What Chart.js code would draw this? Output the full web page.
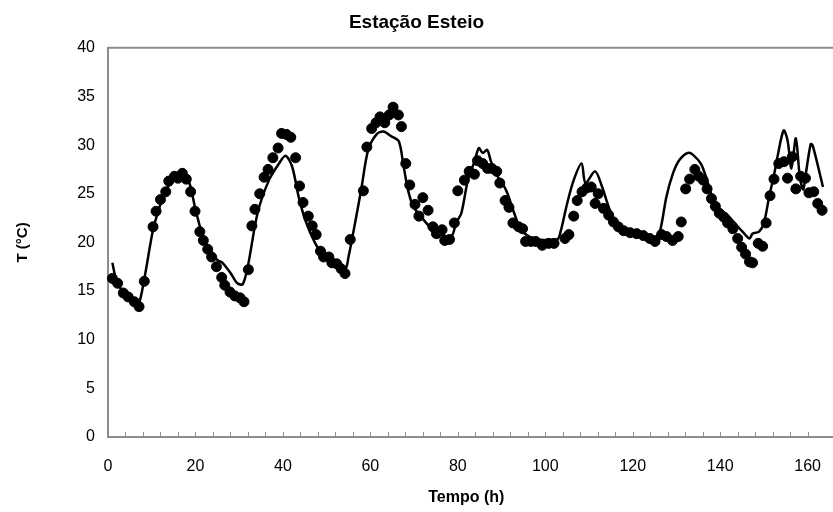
<!DOCTYPE html>
<html>
<head>
<meta charset="utf-8">
<script src="https://cdn.jsdelivr.net/npm/chart.js@4"></script>
<style>
  html, body { margin: 0; padding: 0; background: #fff; }
  #wrap { width: 833px; height: 512px; }
</style>
</head>
<body>
<div id="wrap"><canvas id="tempChart"></canvas></div>
<script>
// observed temperature (dots)
var obsHours = [1, 2.2, 3.5, 4.6, 6, 7.1, 8.3, 10.3, 11, 12, 13.2, 13.9, 15.2, 16, 17, 17.9, 18.9, 19.9, 21, 21.8,
    22.8, 23.7, 24.8, 26, 26.7, 27.9, 29, 30.2, 31.1, 32.1, 32.9, 33.6, 34.7, 35.7, 36.6, 37.7, 38.9, 39.7, 40.8, 41.8,
    42.9, 43.8, 44.6, 45.8, 46.7, 47.6, 48.6, 49.3, 50.5, 51.2, 52.3, 53.3, 54.2, 55.4, 58.4, 59.2, 60.3, 61.3, 62.2, 63.3,
    64.3, 65.2, 66.4, 67.1, 68.1, 69, 70.2, 71.1, 72, 73.2, 74.3, 75.1, 76.4, 77, 78.1, 79.2, 80, 81.5, 82.6, 83.8,
    84.5, 85.7, 86.8, 87.8, 88.9, 89.6, 90.8, 91.7, 92.6, 93.9, 94.8, 95.5, 96.7, 97.8, 99.3, 100.8, 102, 104.5, 105.4, 106.5,
    107.3, 108.4, 109.5, 110.5, 111.4, 112.1, 113.3, 114.5, 115.6, 116.7, 117.9, 119.4, 120.9, 122.4, 123.9, 125.1, 126.6, 127.7, 129.1, 130.4,
    131.1, 132.1, 133, 134.2, 135.1, 136.1, 137, 138, 138.9, 139.8, 140.8, 141.7, 142.9, 144, 144.9, 145.8, 146.7, 147.4, 148.7, 149.7,
    150.5, 151.4, 152.3, 153.4, 154.6, 155.4, 156.5, 157.3, 158.4, 159.5, 160.3, 161.4, 162.3, 163.3];
var obsTemps = [16.3, 15.8, 14.8, 14.4, 13.9, 13.4, 16.0, 21.6, 23.2, 24.4, 25.2, 26.3, 26.8, 26.6, 27.1, 26.5, 25.2, 23.2, 21.1, 20.2,
    19.3, 18.5, 17.5, 16.4, 15.6, 14.9, 14.5, 14.3, 13.9, 17.2, 21.7, 23.4, 25.0, 26.7, 27.5, 28.7, 29.7, 31.2, 31.1, 30.8,
    28.7, 25.8, 24.1, 22.7, 21.7, 20.8, 19.1, 18.5, 18.5, 17.9, 17.8, 17.3, 16.8, 20.3, 25.3, 29.8, 31.7, 32.3, 32.9, 32.3,
    33.1, 33.9, 33.1, 31.9, 28.1, 25.9, 23.9, 22.7, 24.6, 23.3, 21.6, 20.9, 21.3, 20.2, 20.3, 22.0, 25.3, 26.4, 27.3, 27.0,
    28.4, 28.1, 27.6, 27.6, 27.3, 26.1, 24.3, 23.6, 22.0, 21.6, 21.4, 20.1, 20.1, 20.1, 19.7, 19.9, 19.9, 20.4, 20.8, 22.7,
    24.3, 25.2, 25.6, 25.7, 24.0, 25.0, 23.5, 22.8, 22.1, 21.6, 21.2, 21.0, 20.9, 20.7, 20.4, 20.1, 20.8, 20.6, 20.2, 20.6,
    22.1, 25.5, 26.5, 27.5, 26.8, 26.4, 25.5, 24.5, 23.7, 23.0, 22.6, 22.0, 21.4, 20.4, 19.5, 18.8, 18.0, 17.9, 19.9, 19.6,
    22.0, 24.8, 26.5, 28.1, 28.3, 26.6, 28.8, 25.5, 26.8, 26.6, 25.1, 25.2, 24.0, 23.3];

// simulated temperature (line)
var modelHours = [1, 2, 4, 6, 7, 8.4, 10.3, 11.7, 13, 15, 16.9, 18.6, 20, 22, 25, 26.2, 28.1, 29.6, 30.8, 32,
    34.2, 36.8, 39.1, 40.6, 42.1, 43.6, 45.1, 47.4, 49.7, 51.9, 54.2, 55, 56.5, 58, 59.5, 61.4, 63, 64.8, 66.5, 67.5,
    68.6, 69.8, 71.3, 73.6, 75.8, 78.5, 79.6, 80.8, 82.3, 83.8, 84.8, 85.7, 86.7, 87.6, 88.7, 91, 92.9, 94.4, 96.3, 98,
    102.7, 103.5, 105, 106.5, 108.3, 109.2, 111.4, 113, 114.8, 116.7, 119.4, 122.4, 125.1, 126.2, 127.7, 129.2, 130.7, 132.6, 133.8, 135.7,
    137.2, 138.7, 140.2, 141.7, 143.3, 145.1, 146.7, 147.4, 148.9, 150, 151.2, 152.3, 153.1, 154.5, 155.4, 156.3, 157.3, 158.2, 159, 159.5,
    160.7, 161.2, 163.5];
var modelTemps = [17.9, 16.0, 14.6, 13.9, 13.6, 16.5, 21.3, 23.5, 25.1, 26.5, 27.0, 26.1, 23.4, 20.3, 18.2, 17.9, 16.8, 15.8, 15.7, 17.6,
    23.0, 26.4, 28.1, 28.9, 27.8, 24.7, 22.3, 19.9, 18.4, 17.9, 17.2, 18.5, 22.0, 25.7, 29.5, 31.1, 31.4, 30.9, 30.4, 28.1,
    25.4, 23.7, 22.8, 21.6, 20.9, 20.6, 22.0, 23.0, 26.4, 28.3, 29.7, 29.2, 29.5, 28.3, 27.1, 25.4, 23.0, 21.3, 20.6, 20.3,
    20.3, 21.1, 24.0, 26.4, 28.1, 26.1, 27.3, 25.7, 23.3, 21.8, 21.3, 20.9, 20.6, 21.1, 24.7, 27.1, 28.5, 29.2, 29.0, 28.0,
    26.1, 24.0, 23.3, 22.8, 22.0, 21.1, 20.4, 20.9, 21.1, 22.0, 24.7, 26.9, 28.8, 31.5, 30.5, 27.6, 30.7, 26.8, 25.4, 26.8,
    30.1, 29.9, 25.7];

var xMajorTicks = [0, 20, 40, 60, 80, 100, 120, 140, 160];
var yTicks = [0, 5, 10, 15, 20, 25, 30, 35, 40];

var FONT = "'Liberation Sans Narrow', 'Liberation Sans', Arial, sans-serif";

function pairs(xs, ys) {
    return xs.map(function(x, i) { return { x: x, y: ys[i] }; });
}

// top and bottom edges of the plot box run to the picture edge, plus small inward ticks on the time axis
var frame = {
    id: 'frame',
    afterDraw: function(chart) {
        var ctx = chart.ctx, a = chart.chartArea, xs = chart.scales.x;
        ctx.save();
        ctx.strokeStyle = '#8c8c8c';
        ctx.lineWidth = 2;
        ctx.beginPath();
        ctx.moveTo(a.left, a.top);
        ctx.lineTo(chart.width, a.top);
        ctx.moveTo(a.left, a.bottom);
        ctx.lineTo(chart.width, a.bottom);
        ctx.stroke();
        ctx.lineWidth = 1;
        ctx.beginPath();
        for (var v = 0; v <= xs.max; v += 4) {
            var px = Math.round(xs.getPixelForValue(v)) + 0.5;
            ctx.moveTo(px, a.bottom);
            ctx.lineTo(px, a.bottom - 5);
        }
        ctx.stroke();
        ctx.restore();
    }
};

new Chart(document.getElementById('tempChart').getContext('2d'), {
    type: 'scatter',
    data: {
        datasets: [{
            label: 'Simulado',
            data: pairs(modelHours, modelTemps),
            showLine: true,
            borderColor: '#000',
            borderWidth: 2.5,
            pointRadius: 0,
            tension: 0.3,
            clip: false,
            order: 1
        }, {
            label: 'Observado',
            data: pairs(obsHours, obsTemps),
            backgroundColor: '#000',
            borderColor: '#000',
            pointRadius: 5,
            pointHoverRadius: 5,
            clip: false,
            order: 2
        }]
    },
    options: {
        responsive: true,
        maintainAspectRatio: false,
        animation: false,
        layout: { autoPadding: false, padding: 0 },
        plugins: {
            legend: { display: false },
            tooltip: { enabled: false },
            title: {
                display: true,
                text: 'Estação Esteio',
                color: '#000',
                font: { family: FONT, size: 19, weight: 'bold', lineHeight: 1.2 },
                padding: { top: 11, bottom: 14 }
            }
        },
        scales: {
            x: {
                type: 'linear',
                min: 0,
                max: 163.9,
                afterFit: function(s) { s.height = 75; },
                afterBuildTicks: function(s) {
                    s.ticks = xMajorTicks.map(function(v) { return { value: v }; });
                },
                grid: { display: false },
                border: { display: true, color: '#8c8c8c', width: 2 },
                ticks: {
                    color: '#000',
                    padding: 12,
                    maxRotation: 0,
                    font: { family: FONT, size: 16 }
                },
                title: {
                    display: true,
                    text: 'Tempo (h)',
                    color: '#000',
                    font: { family: FONT, size: 16, weight: 'bold', lineHeight: 1.2 },
                    padding: { top: 0, bottom: 5 }
                }
            },
            y: {
                min: 0,
                max: 40,
                afterFit: function(s) { s.width = 108; },
                afterBuildTicks: function(s) {
                    s.ticks = yTicks.map(function(v) { return { value: v }; });
                },
                grid: { display: false },
                border: { display: true, color: '#8c8c8c', width: 2 },
                ticks: {
                    color: '#000',
                    padding: 5,
                    font: { family: FONT, size: 16 }
                },
                title: {
                    display: true,
                    text: 'T (°C)',
                    color: '#000',
                    font: { family: FONT, size: 15, weight: 'bold', lineHeight: 1.2 },
                    padding: { top: 14, bottom: 0 }
                }
            }
        }
    },
    plugins: [frame]
});
</script>
</body>
</html>
